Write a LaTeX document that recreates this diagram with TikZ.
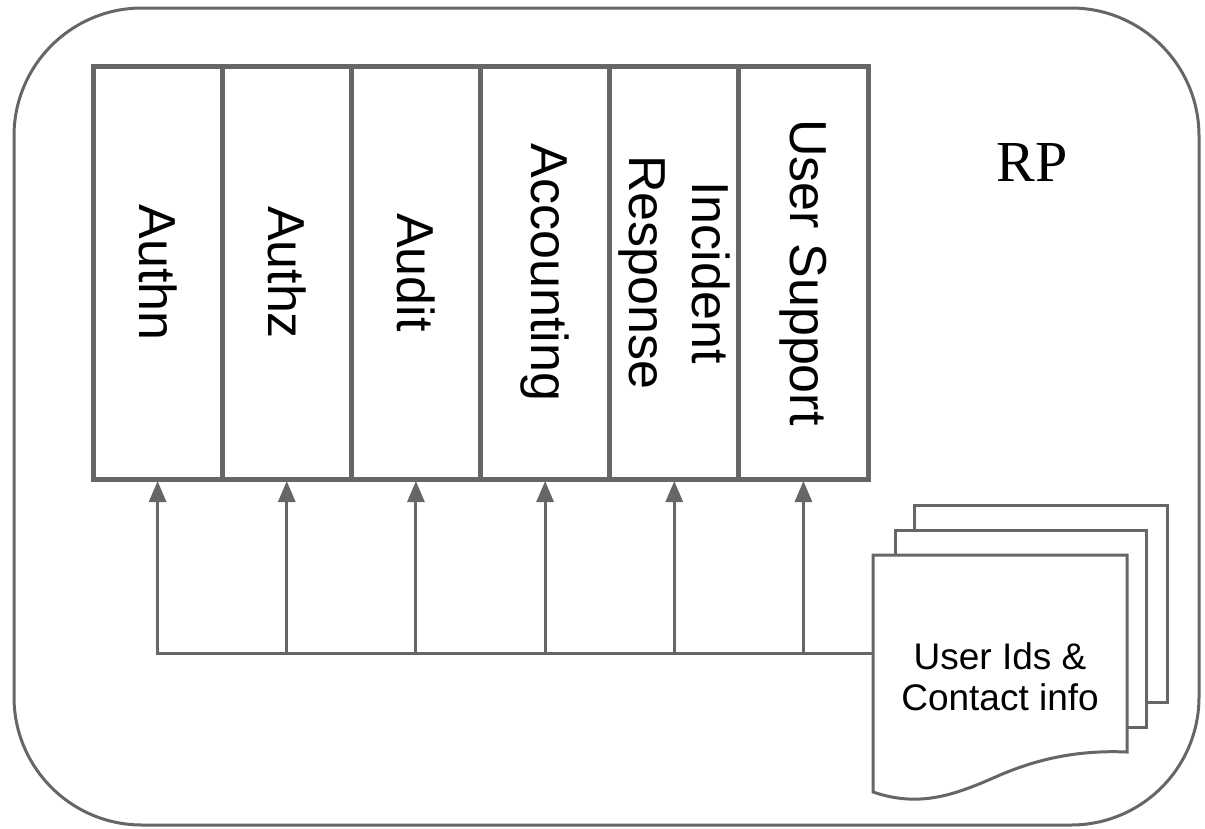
\documentclass[tikz,border=0pt]{standalone}
\usepackage{fontspec}
\setmainfont{Liberation Sans}
\newfontfamily\rpfont{Liberation Serif}
\usetikzlibrary{arrows.meta}
\definecolor{linegray}{HTML}{666666}

\tikzset{
  col/.style={draw=linegray, line width=5pt, minimum width=129.17pt,
    minimum height=413pt, inner sep=0pt, outer sep=0pt},
  collabel/.style={rotate=-90, align=center, font=\fontsize{52}{63}\selectfont},
  feed/.style={draw=linegray, line width=3pt,
    -{Triangle[length=21pt,width=17pt]}, shorten >=2pt},
  sheet/.style={draw=linegray, line width=3pt, fill=white},
}

\begin{document}
\begin{tikzpicture}[x=1pt,y=-1pt]
  \useasboundingbox (0,0) rectangle (1205,828);

  % RP frame
  \draw[linegray, line width=3pt, rounded corners=128pt] (14,8) rectangle (1199,825);
  \node[font=\rpfont\fontsize{58}{60}\selectfont] (rp) at (1032,163) {RP};

  % functions
  \foreach \name/\txt [count=\i] in {authn/Authn, authz/Authz, audit/Audit,
      acct/Accounting, incid/{Incident\\Response}, supp/User Support} {
    \node[col] (\name) at ({93+129.17*(\i-0.5)},272.5) {};
    \node[collabel] at (\name) {\txt};
    \coordinate (bus\i) at ({93+129.17*(\i-0.5)},653);
  }

  % stacked sheets
  \draw[sheet] (914,505) rectangle (1167,702);
  \draw[sheet] (895,530) rectangle (1146,727);
  \draw[sheet] (873,555) -- (1127,555) -- (1127,752)
    .. controls (1080,750) and (1040,758) .. (1000,775)
    .. controls (955,795) and (920,808) .. (873,792) -- cycle;
  \node[align=center, font=\fontsize{37}{41}\selectfont] (ids) at (1000,677)
    {User Ids \&\\Contact info};
  \coordinate (docin) at (873,653);

  % feeds
  \draw[feed] (docin) -| (authn.south);
  \foreach \name [count=\i from 2] in {authz,audit,acct,incid,supp} {
    \draw[feed] (bus\i) -- (\name.south);
  }
\end{tikzpicture}
\end{document}
